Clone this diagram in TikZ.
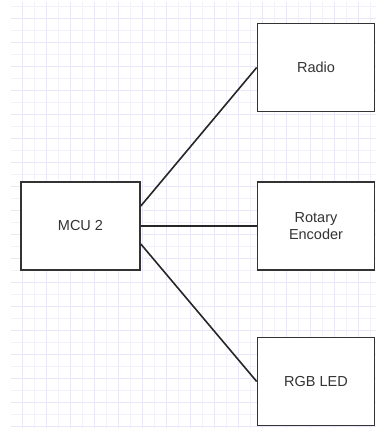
\documentclass[tikz,border=0pt]{standalone}
\usepackage{fontspec}
\setmainfont{Liberation Sans}
\usepackage{tikz}
\usetikzlibrary{positioning}
\definecolor{gridminor}{HTML}{F2F2FC}
\definecolor{gridmajor}{HTML}{E8E8F9}
\definecolor{boxline}{HTML}{333333}

\begin{document}
\begin{tikzpicture}[
    x=1pt, y=-1pt,
    % Estilo de las cajas
    block/.style={
        draw=boxline, fill=white, line width=1.6pt,
        minimum width=117pt, minimum height=88pt,
        font=\fontsize{14.5}{16.5}\selectfont, align=center,
        text=boxline, inner sep=0pt
    },
    % Estilo de las lineas
    wire/.style={
        line width=1.6pt, color=black!85
    }
]

    % 0. Marco y rejilla de fondo
    \useasboundingbox (0,0) rectangle (376,428);
    \foreach \x in {22,34,...,370}
        \draw[gridminor, line width=0.8pt] (\x,2) -- (\x,428);
    \foreach \y in {6,18,...,426}
        \draw[gridminor, line width=0.8pt] (11,\y) -- (376,\y);
    \foreach \x in {22,46,...,370}
        \draw[gridmajor, line width=0.8pt] (\x,2) -- (\x,428);
    \foreach \y in {18,42,...,426}
        \draw[gridmajor, line width=0.8pt] (11,\y) -- (376,\y);

    % 1. Microcontrolador
    \node[block, minimum width=119pt] (mcu) at (80.5, 226) {MCU 2};

    % 2. Perifericos
    \node[block] (radio)   at (316, 67.5)  {Radio};
    \node[block] (encoder) at (316, 226)   {Rotary\\Encoder};
    \node[block] (rgb)     at (316, 381.5) {RGB LED};

    % 3. Conexiones
    \draw[wire] ([yshift=20pt]mcu.east)  -- (radio.west);
    \draw[wire] (mcu.east)               -- (encoder.west);
    \draw[wire] ([yshift=-18pt]mcu.east) -- (rgb.west);

\end{tikzpicture}
\end{document}
